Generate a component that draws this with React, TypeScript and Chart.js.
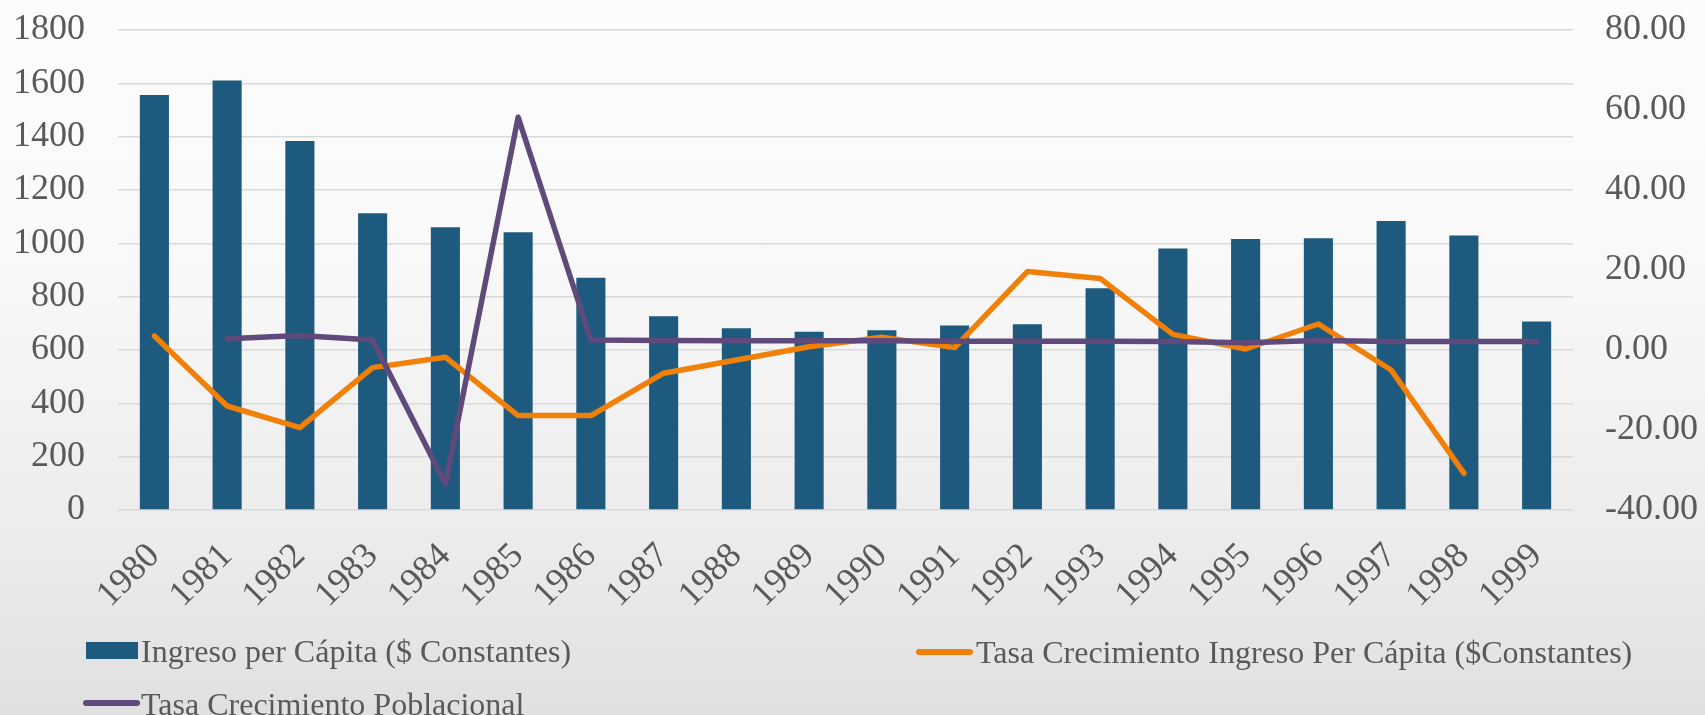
import React, { useEffect, useRef } from "react";
import { Chart, registerables } from "chart.js";

Chart.register(...registerables);

const years = ["1980","1981","1982","1983","1984","1985","1986","1987","1988","1989","1990","1991","1992","1993","1994","1995","1996","1997","1998","1999"];
const ingresoPerCapita = [1556,1611,1384,1113,1060,1042,871,727,682,668,674,692,697,832,981,1016,1019,1084,1029,707];
const tasaIngreso = [3.5,-14,-19.4,-4.4,-1.8,-16.4,-16.4,-5.8,-2.5,0.8,3.2,0.6,19.6,17.9,3.9,0.25,6.5,-5,-30.8,null];
const tasaPoblacional = [null,2.8,3.6,2.5,-33.5,58.2,2.5,2.4,2.3,2.3,2.3,2.2,2.2,2.2,2.1,1.8,2.4,2.1,2.1,2.1];
const leftTicks = { min: 0, max: 1800, step: 200 };
const rightTicks = { min: -40, max: 80, step: 20 };

const labelIngreso = "Ingreso per Cápita ($ Constantes)";
const labelTasaIngreso = "Tasa Crecimiento Ingreso Per Cápita ($Constantes)";
const labelTasaPob = "Tasa Crecimiento Poblacional";

const BAR = "#1e5a7d";
const ORANGE = "#f08008";
const PURPLE = "#5f4a7b";
const TEXT = "#595959";
const FONT = "'Liberation Serif', 'Times New Roman', serif";

export default function App() {
  const ref = useRef<HTMLCanvasElement | null>(null);

  useEffect(() => {
    document.body.style.margin = "0";
    const canvas = ref.current;
    if (!canvas) return;
    const fitY = (w: number) => (s: any) => {
      s.width = w;
      s.paddingTop = 0;
      s.paddingBottom = 0;
    };
    const chart = new Chart(canvas, {
      type: "bar",
      data: {
        labels: years,
        datasets: [
          {
            type: "bar",
            label: labelIngreso,
            data: ingresoPerCapita,
            backgroundColor: BAR,
            yAxisID: "y",
            barPercentage: 0.4,
            categoryPercentage: 1,
            order: 2,
          },
          {
            type: "line",
            label: labelTasaIngreso,
            data: tasaIngreso,
            borderColor: ORANGE,
            backgroundColor: ORANGE,
            borderWidth: 5.5,
            pointRadius: 0,
            tension: 0,
            borderCapStyle: "round",
            borderJoinStyle: "round",
            yAxisID: "y1",
            order: 1,
          },
          {
            type: "line",
            label: labelTasaPob,
            data: tasaPoblacional,
            borderColor: PURPLE,
            backgroundColor: PURPLE,
            borderWidth: 5.5,
            pointRadius: 0,
            tension: 0,
            borderCapStyle: "round",
            borderJoinStyle: "round",
            yAxisID: "y1",
            order: 0,
          },
        ],
      },
      options: {
        animation: false,
        responsive: false,
        devicePixelRatio: 1,
        layout: { padding: { top: 30, left: 0, right: 0, bottom: 0 } },
        plugins: { legend: { display: false }, tooltip: { enabled: false } },
        scales: {
          x: {
            grid: { display: false, drawTicks: false },
            border: { display: false },
            ticks: {
              color: TEXT,
              font: { family: FONT, size: 36 },
              minRotation: 45,
              maxRotation: 45,
              autoSkip: false,
              padding: 25,
            },
            afterFit: (s: any) => { s.height = 205; },
          },
          y: {
            position: "left",
            min: leftTicks.min,
            max: leftTicks.max,
            grid: { color: "#d9d9d9", lineWidth: 1.5, drawTicks: false },
            border: { display: false },
            ticks: {
              stepSize: leftTicks.step,
              color: TEXT,
              font: { family: FONT, size: 36 },
              padding: 33,
              callback: (v: any) => String(v),
            },
            afterFit: fitY(118),
          },
          y1: {
            position: "right",
            min: rightTicks.min,
            max: rightTicks.max,
            grid: { display: false, drawTicks: false },
            border: { display: false },
            ticks: {
              stepSize: rightTicks.step,
              color: TEXT,
              font: { family: FONT, size: 36 },
              padding: 32,
              callback: (v: any) => Number(v).toFixed(2),
            },
            afterFit: fitY(132),
          },
        },
      },
    });
    return () => chart.destroy();
  }, []);

  const textStyle: React.CSSProperties = {
    position: "absolute",
    height: 40,
    lineHeight: "40px",
    fontFamily: FONT,
    fontSize: 32,
    color: TEXT,
    whiteSpace: "nowrap",
  };

  return (
    <div
      style={{
        position: "absolute",
        left: 0,
        top: 0,
        width: 1705,
        height: 715,
        overflow: "hidden",
        background:
          "linear-gradient(to bottom, #fcfcfc 0%, #f9f9f9 35%, #ebebeb 77%, #e0e0e0 100%)",
      }}
    >
      <canvas ref={ref} width={1705} height={715} style={{ position: "absolute", left: 0, top: 0 }} />
      <div style={{ position: "absolute", left: 86, top: 642, width: 52, height: 17, background: BAR }} />
      <div style={{ ...textStyle, left: 141, top: 631 }}>{labelIngreso}</div>
      <div style={{ position: "absolute", left: 916, top: 649, width: 57, height: 6, borderRadius: 3, background: ORANGE }} />
      <div style={{ ...textStyle, left: 976, top: 632 }}>{labelTasaIngreso}</div>
      <div style={{ position: "absolute", left: 83, top: 700, width: 57, height: 6, borderRadius: 3, background: PURPLE }} />
      <div style={{ ...textStyle, left: 141, top: 684 }}>{labelTasaPob}</div>
    </div>
  );
}
